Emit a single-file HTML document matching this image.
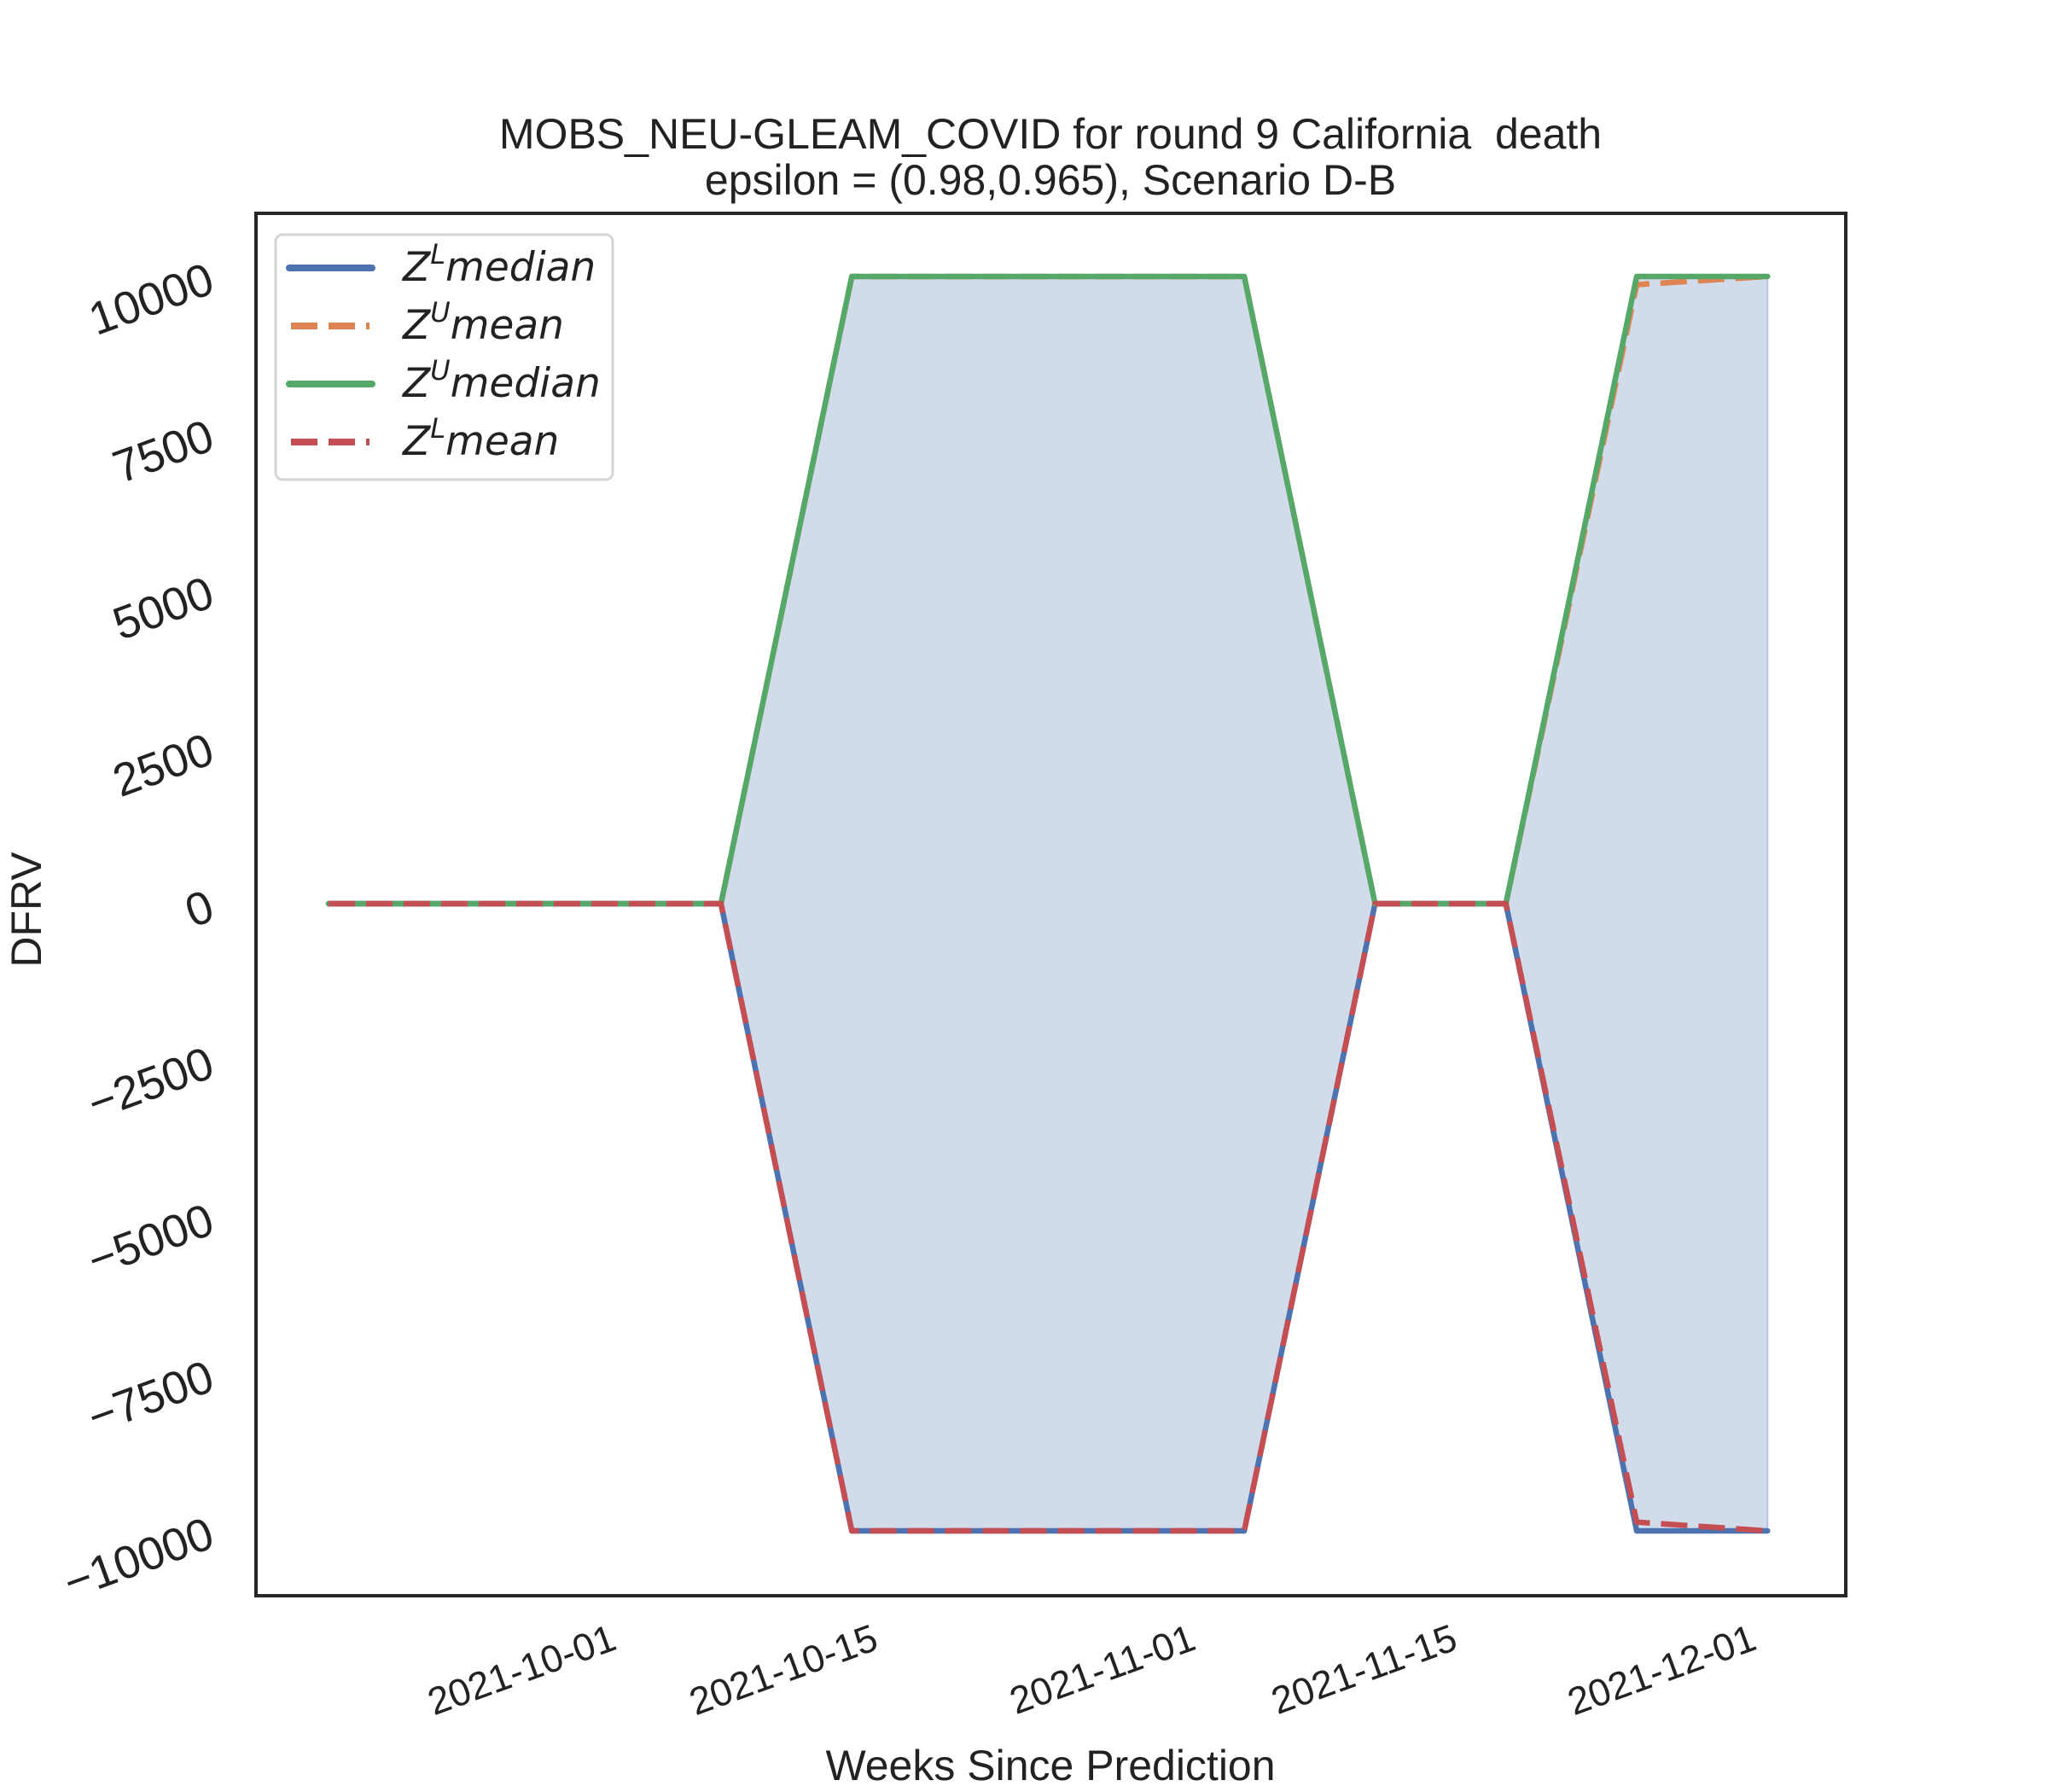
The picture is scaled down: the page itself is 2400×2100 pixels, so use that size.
<!DOCTYPE html>
<html><head><meta charset="utf-8"><style>
html,body{margin:0;padding:0;background:#fff;}
svg{display:block;font-family:"Liberation Sans","DejaVu Sans",sans-serif;}
</style></head><body>
<svg id="chart" width="2400" height="2100" viewBox="0 0 2400 2100">
<g fill="#222" font-size="50" text-anchor="middle">
<text x="1231" y="174">MOBS_NEU-GLEAM_COVID for round 9 California&#160; death</text>
<text x="1231" y="228">epsilon = (0.98,0.965), Scenario D-B</text>
</g>
<g id="plot"></g>
<rect x="300" y="250" width="1863" height="1620" fill="none" stroke="#262626" stroke-width="4"/>
<g id="yticks"></g>
<g id="xticks"></g>
<text x="0" y="0" transform="translate(48,1066) rotate(-90)" font-size="50" fill="#222" text-anchor="middle">DFRV</text>
<text x="1231" y="2086" font-size="50" fill="#222" text-anchor="middle">Weeks Since Prediction</text>
<g>
<rect x="323" y="275" width="395" height="287" rx="8" fill="#fff" stroke="#d5d5d5" stroke-width="3"/>
<g>
<line x1="339" y1="314" x2="436" y2="314" stroke="#4c72b0" stroke-width="8" stroke-linecap="round"/>
<text x="472" y="329" font-family="DejaVu Sans" font-style="italic" font-size="47" fill="#222">Z<tspan dy="-20" font-size="32">L</tspan><tspan dy="20">median</tspan></text></g>
<g>
<line x1="341" y1="382" x2="433" y2="382" stroke="#dd8452" stroke-width="8" stroke-dasharray="31,13"/>
<text x="472" y="397" font-family="DejaVu Sans" font-style="italic" font-size="47" fill="#222">Z<tspan dy="-20" font-size="32">U</tspan><tspan dy="20">mean</tspan></text></g>
<g>
<line x1="339" y1="450" x2="436" y2="450" stroke="#55a868" stroke-width="8" stroke-linecap="round"/>
<text x="472" y="465" font-family="DejaVu Sans" font-style="italic" font-size="47" fill="#222">Z<tspan dy="-20" font-size="32">U</tspan><tspan dy="20">median</tspan></text></g>
<g>
<line x1="341" y1="518" x2="433" y2="518" stroke="#c44e52" stroke-width="8" stroke-dasharray="31,13"/>
<text x="472" y="533" font-family="DejaVu Sans" font-style="italic" font-size="47" fill="#222">Z<tspan dy="-20" font-size="32">L</tspan><tspan dy="20">mean</tspan></text></g>
</g>
</svg>
<script>
const weeks = [0,1,2,3,4,5,6,7,8,9,10,11];
const zuMedian = [0,0,0,0,10000,10000,10000,10000,0,0,10000,10000];
const zuMean = [0,0,0,0,10000,10000,10000,10000,0,0,9870,10000];
const zlMedian = [0,0,0,0,-10000,-10000,-10000,-10000,0,0,-10000,-10000];
const zlMean = [0,0,0,0,-10000,-10000,-10000,-10000,0,0,-9860,-10000];
const yTicks = [-10000,-7500,-5000,-2500,0,2500,5000,7500,10000];
const yTickLabels = ["\u221210000","\u22127500","\u22125000","\u22122500","0","2500","5000","7500","10000"];
const xTickDays = [14,28,45,59,75];
const xTickLabels = ["2021-10-01","2021-10-15","2021-11-01","2021-11-15","2021-12-01"];

const NS = "http://www.w3.org/2000/svg";
const xW = w => 385 + w * 153.3;
const xD = d => 385 + d * 153.3 / 7;
const y = v => 1059 - v * 0.0735;
const plot = document.getElementById('plot');
function mk(tag, attrs, parent){const e=document.createElementNS(NS,tag);for(const k in attrs)e.setAttribute(k,attrs[k]);parent.appendChild(e);return e;}
const pts = arr => arr.map((v,i)=>xW(weeks[i]).toFixed(1)+','+y(v).toFixed(1)).join(' ');

const upper = weeks.map((w,i)=>xW(w).toFixed(1)+','+y(zuMedian[i]).toFixed(1));
const lower = weeks.map((w,i)=>xW(w).toFixed(1)+','+y(zlMedian[i]).toFixed(1)).reverse();
const fill = mk('polygon',{points:upper.concat(lower).join(' '),fill:'#d2dbea',stroke:'#b5c4de','stroke-width':2},plot);



const series = [
 [zlMedian,'#4c72b0',null,'zl-median-line'],
 [zuMean,'#dd8452','31,13','zu-mean-line'],
 [zuMedian,'#55a868',null,'zu-median-line'],
 [zlMean,'#c44e52','31,13','zl-mean-line']
];
series.forEach(s=>{
 const a={points:pts(s[0]),fill:'none',stroke:s[1],'stroke-width':6.5,'stroke-linejoin':'round','stroke-linecap':s[2]?'butt':'round'};
 if(s[2])a['stroke-dasharray']=s[2];
 const l=mk('polyline',a,plot);
 
 
});

const yg=document.getElementById('yticks');
yTicks.forEach((v,i)=>{
 const t=mk('text',{x:0,y:0,transform:`translate(254,${y(v)+18}) rotate(-20)`,'font-size':54,fill:'#222','text-anchor':'end'},yg);
 t.textContent=yTickLabels[i];
 
 
});
const xg=document.getElementById('xticks');
xTickDays.forEach((d,i)=>{
 const t=mk('text',{x:0,y:0,transform:`translate(${xD(d)+22},${1901}) rotate(-20)`,'font-size':45,fill:'#222','text-anchor':'end','dominant-baseline':'hanging'},xg);
 t.textContent=xTickLabels[i];
 
 
});
</script>
</body></html>
